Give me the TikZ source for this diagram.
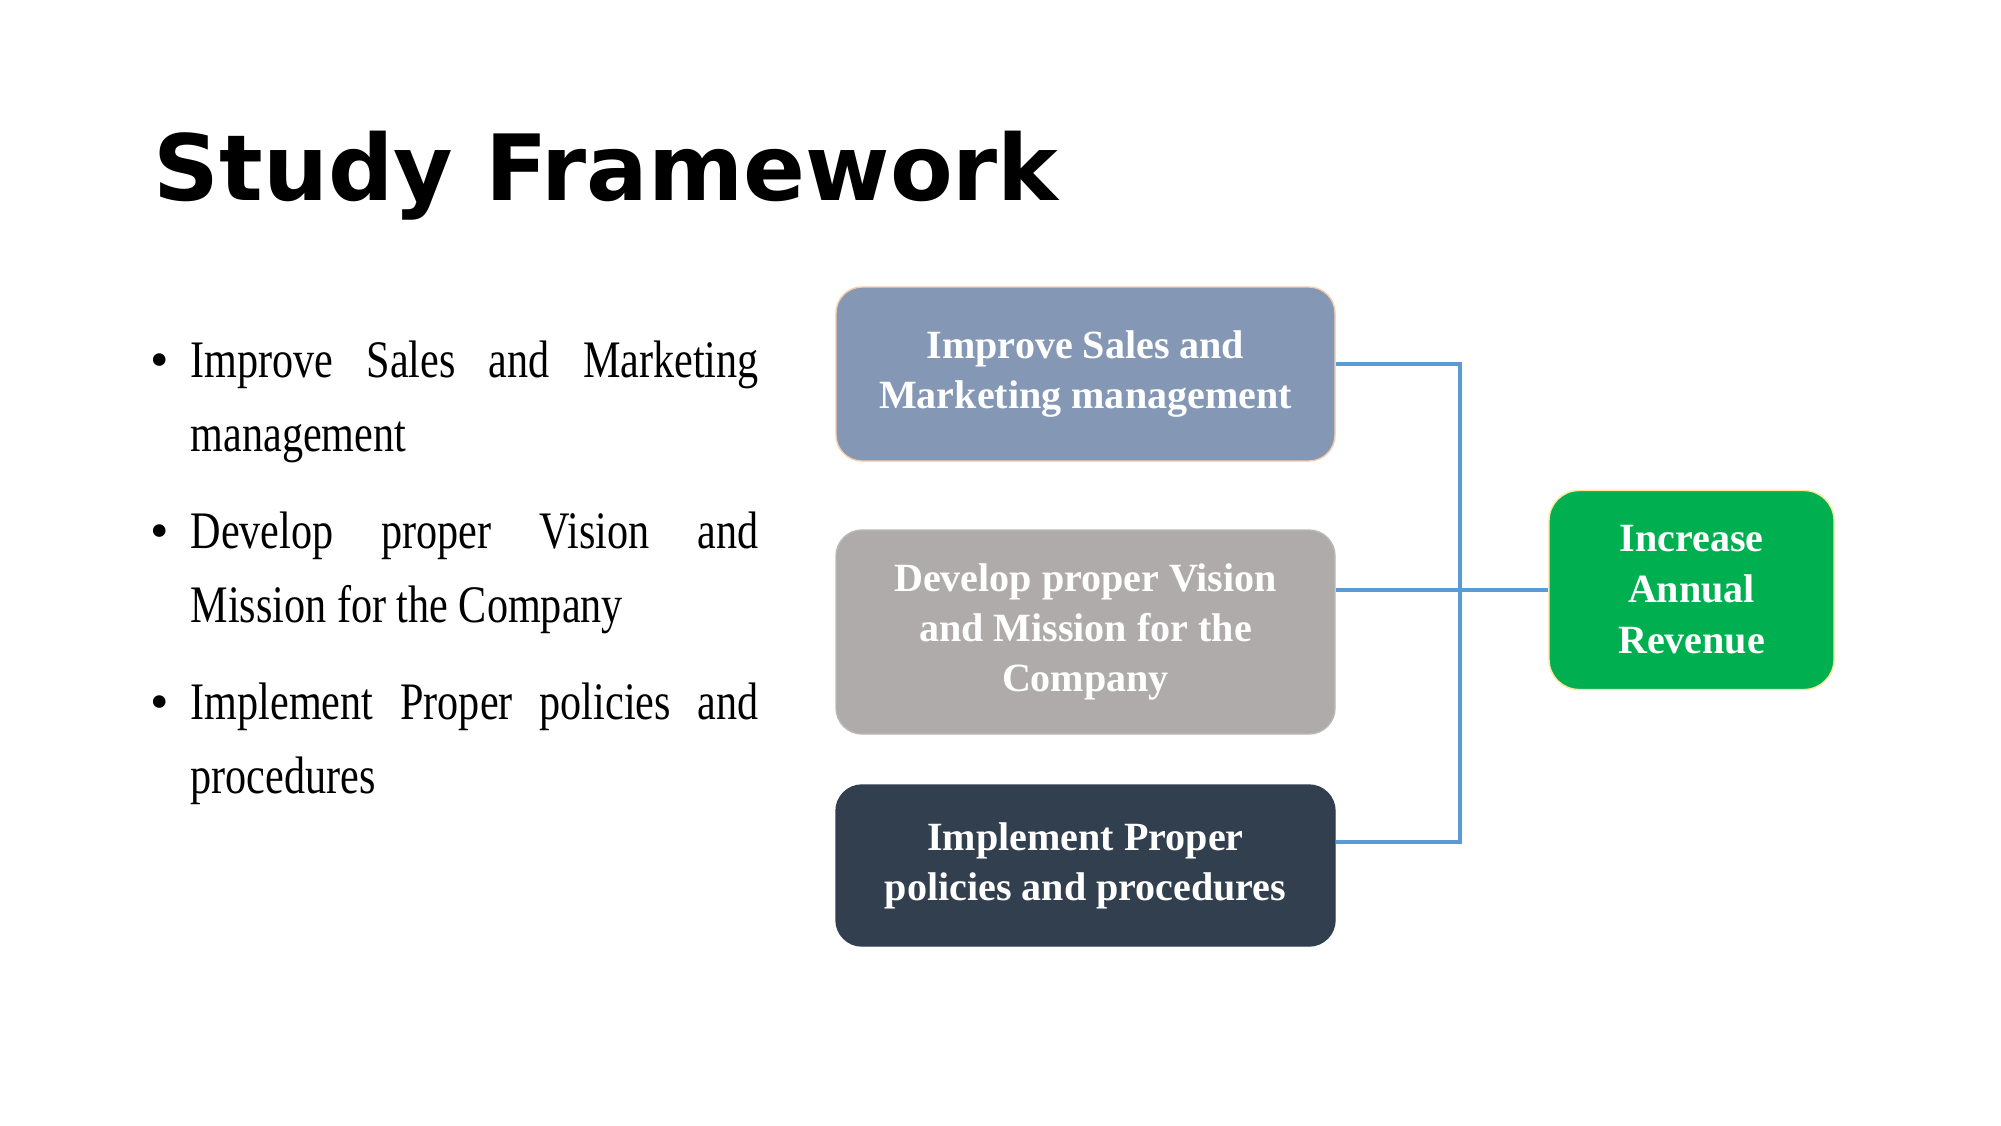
\documentclass[tikz,border=0pt]{standalone}
\usepackage{fontspec}
\usetikzlibrary{positioning,calc}
\newfontfamily\titlefont{DejaVu Sans}
\newfontfamily\bodyfont[FakeStretch=0.8]{Liberation Serif}
\newfontfamily\boxfont{Liberation Serif}
\newcommand\loosebreaks{\tolerance=10000 \hyphenpenalty=10000 }
\definecolor{SlateBlue}{RGB}{132,151,180}
\definecolor{StoneGray}{RGB}{175,171,171}
\definecolor{NavyDark}{RGB}{50,63,79}
\definecolor{LeafGreen}{RGB}{0,176,80}
\definecolor{LinkBlue}{RGB}{91,155,213}
\definecolor{PeachLine}{RGB}{248,203,173}
\definecolor{ButterLine}{RGB}{255,230,153}
\tikzset{
  aimbox/.style={rounded corners=2.6mm,minimum width=4.99cm,align=center,
    text=white,inner sep=2pt,font=\boxfont\bfseries\fontsize{11.4}{14.3}\selectfont},
  goalbox/.style={rounded corners=3mm,minimum width=2.85cm,minimum height=1.99cm,
    align=center,text=white,inner sep=2pt,font=\boxfont\bfseries\fontsize{11.4}{14.5}\selectfont},
  bullettext/.style={anchor=base west,text width=5.68cm,align=justify,inner sep=0pt,
    font=\bodyfont\fontsize{15}{21.1}\selectfont},
  bulletdot/.style={anchor=base,inner sep=0pt,font=\boxfont\fontsize{15}{18}\selectfont},
  link/.style={draw=LinkBlue,line width=0.9pt}
}

\begin{document}
\begin{tikzpicture}

\path[fill=white,use as bounding box] (0,0) rectangle (20.01,-11.25);

\node[
  anchor=base west,
  inner sep=0pt,
  font=\titlefont\bfseries\fontsize{26}{30}\selectfont
] (title) at (1.53,-2.00) {Study Framework};

\node[bulletdot] (dotA) at (1.60,-3.77) {•};
\node[bullettext] (itemA) at (1.90,-3.77)
  {\loosebreaks Improve Sales and Marketing\linebreak management};

\node[bulletdot] (dotB) at (1.60,-5.48) {•};
\node[bullettext] (itemB) at (1.90,-5.48)
  {\loosebreaks Develop proper Vision and\linebreak Mission for the Company};

\node[bulletdot] (dotC) at (1.60,-7.19) {•};
\node[bullettext] (itemC) at (1.90,-7.19)
  {\loosebreaks Implement Proper policies and\linebreak procedures};

\node[
  aimbox,
  fill=SlateBlue,
  draw=PeachLine,
  minimum height=1.74cm
] (sales) at (10.855,-3.74) {Improve Sales and\\Marketing management};

\node[
  aimbox,
  fill=StoneGray,
  draw=StoneGray!85!white,
  minimum height=2.04cm
] (vision) at (10.855,-6.32) {Develop proper Vision\\and Mission for the\\Company};

\node[
  aimbox,
  fill=NavyDark,
  draw=NavyDark,
  minimum height=1.61cm
] (policy) at (10.855,-8.655) {Implement Proper\\policies and procedures};

\node[
  goalbox,
  fill=LeafGreen,
  draw=ButterLine
] (revenue) at (16.915,-5.90) {Increase\\Annual\\Revenue};

\coordinate (bus) at (14.60,-5.90);

\draw[link] ([yshift=1mm]sales.east) -| (bus) |- ([yshift=2.35mm]policy.east);
\draw[link] (vision.east |- revenue.west) -- (revenue.west);

\end{tikzpicture}
\end{document}
